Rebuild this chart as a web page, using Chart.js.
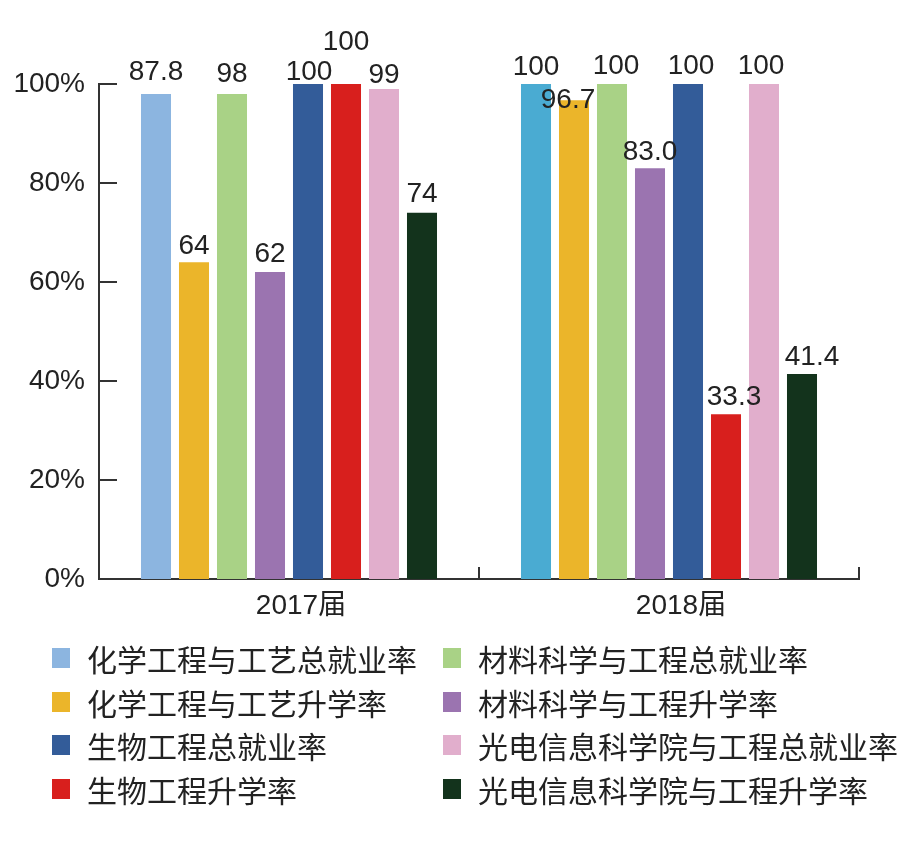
<!DOCTYPE html>
<html>
<head>
<meta charset="utf-8">
<script src="https://cdn.jsdelivr.net/npm/chart.js@4/dist/chart.umd.min.js"></script>
<style>
  body { margin: 0; background: #fff; }
  .wrap { position: relative; width: 913px; height: 849px; }
  .wrap canvas { position: absolute; left: 0; top: 0; }
  .legend {
    position: absolute; left: 52px; top: 636px;
    display: grid; grid-template-columns: 391px 440px; grid-auto-rows: 43.7px;
    font-family: "Noto Sans CJK SC", sans-serif; font-size: 30px; color: #222;
  }
  .legend div { display: flex; align-items: center; white-space: nowrap; }
  .legend span.box { width: 18px; height: 20px; margin-right: 17px; flex: none; }
</style>
</head>
<body>
<div class="wrap">
  <canvas id="chart" width="913" height="640"></canvas>
  <div class="legend" id="legend"></div>
</div>
<script>
const categories = ['2017届', '2018届'];
const seriesNames = [
  '化学工程与工艺总就业率', '化学工程与工艺升学率',
  '材料科学与工程总就业率', '材料科学与工程升学率',
  '生物工程总就业率', '生物工程升学率',
  '光电信息科学院与工程总就业率', '光电信息科学院与工程升学率'
];
// bar heights as drawn
const chemEmploy = [98, 100];
const chemStudy = [64, 96.7];
const matEmploy = [98, 100];
const matStudy = [62, 83.0];
const bioEmploy = [100, 100];
const bioStudy = [100, 33.3];
const optEmploy = [99, 100];
const optStudy = [74, 41.4];
// printed labels (first one does not match its bar in the original)
const chemEmployText = ['87.8', '100'];
const chemStudyText = ['64', '96.7'];
const matEmployText = ['98', '100'];
const matStudyText = ['62', '83.0'];
const bioEmployText = ['100', '100'];
const bioStudyText = ['100', '33.3'];
const optEmployText = ['99', '100'];
const optStudyText = ['74', '41.4'];
const yTicks = [0, 20, 40, 60, 80, 100];

const colors = ['#8CB5E0', '#EBB52A', '#A9D286', '#9B74B0', '#335C99', '#D81F1D', '#E1AECC', '#13331C'];
const values = [chemEmploy, chemStudy, matEmploy, matStudy, bioEmploy, bioStudy, optEmploy, optStudy];
const texts = [chemEmployText, chemStudyText, matEmployText, matStudyText, bioEmployText, bioStudyText, optEmployText, optStudyText];
// small nudges for label placement [dx, dy] per dataset per category
const nudges = [
  [[0, -6], [0, -1]],
  [[0, 0], [-6, 16]],
  [[0, -4], [4, -2]],
  [[0, -2], [0, 0]],
  [[1, 4], [3, -2]],
  [[0, -26], [8, -1]],
  [[0, 2], [-3, -2]],
  [[0, -3], [10, -1]]
];

const datasets = values.map((v, i) => ({
  label: seriesNames[i],
  data: v,
  backgroundColor: i === 0 ? ['#8CB5E0', '#4AABD2'] : colors[i],
  borderWidth: 0,
  barPercentage: 0.79,
  categoryPercentage: 0.8
}));

const labelPlugin = {
  id: 'barLabels',
  afterDatasetsDraw(chart) {
    const ctx = chart.ctx;
    ctx.save();
    ctx.font = '28px "Liberation Sans", Arial, sans-serif';
    ctx.fillStyle = '#222';
    ctx.textAlign = 'center';
    ctx.textBaseline = 'alphabetic';
    chart.data.datasets.forEach((ds, i) => {
      chart.getDatasetMeta(i).data.forEach((bar, j) => {
        const n = nudges[i][j];
        ctx.fillText(texts[i][j], bar.x + n[0], bar.y - 8 + n[1]);
      });
    });
    ctx.restore();
  }
};

const tickPlugin = {
  id: 'innerTicks',
  afterDraw(chart) {
    const ctx = chart.ctx;
    const y = chart.scales.y, x = chart.scales.x;
    const area = chart.chartArea;
    ctx.save();
    ctx.strokeStyle = '#333';
    ctx.lineWidth = 2;
    ctx.beginPath();
    yTicks.forEach(v => {
      const py = Math.round(y.getPixelForValue(v));
      ctx.moveTo(area.left, py);
      ctx.lineTo(area.left + 18, py);
    });
    for (let i = 0; i < categories.length; i++) {
      const px = i < categories.length - 1
        ? Math.round((x.getPixelForTick(i) + x.getPixelForTick(i + 1)) / 2)
        : area.right;
      ctx.moveTo(px, area.bottom);
      ctx.lineTo(px, area.bottom - 12);
    }
    ctx.stroke();
    ctx.restore();
  }
};

new Chart(document.getElementById('chart'), {
  type: 'bar',
  data: { labels: categories, datasets: datasets },
  options: {
    responsive: false,
    animation: false,
    layout: { padding: { top: 84, right: 54, left: 0, bottom: 0 } },
    plugins: { legend: { display: false }, tooltip: { enabled: false } },
    scales: {
      x: {
        grid: { display: false },
        border: { display: true, color: '#333', width: 2 },
        ticks: {
          color: '#222',
          padding: 2,
          labelOffset: 12,
          font: { size: 28, family: '"Liberation Sans", "Noto Sans CJK SC", sans-serif' }
        },
        afterFit(scale) { scale.height = 61; }
      },
      y: {
        min: 0,
        max: 100,
        grid: { display: false },
        border: { display: true, color: '#333', width: 2 },
        ticks: {
          stepSize: 20,
          color: '#222',
          padding: 6,
          font: { size: 28, family: '"Liberation Sans", Arial, sans-serif' },
          callback: v => v + '%'
        },
        afterFit(scale) { scale.width = 99; }
      }
    }
  },
  plugins: [labelPlugin, tickPlugin]
});

// legend in two columns, same order as the original
const legendOrder = [0, 2, 1, 3, 4, 6, 5, 7];
const legendEl = document.getElementById('legend');
legendOrder.forEach(i => {
  const item = document.createElement('div');
  const box = document.createElement('span');
  box.className = 'box';
  box.style.background = colors[i];
  item.appendChild(box);
  item.appendChild(document.createTextNode(seriesNames[i]));
  legendEl.appendChild(item);
});
</script>
</body>
</html>
